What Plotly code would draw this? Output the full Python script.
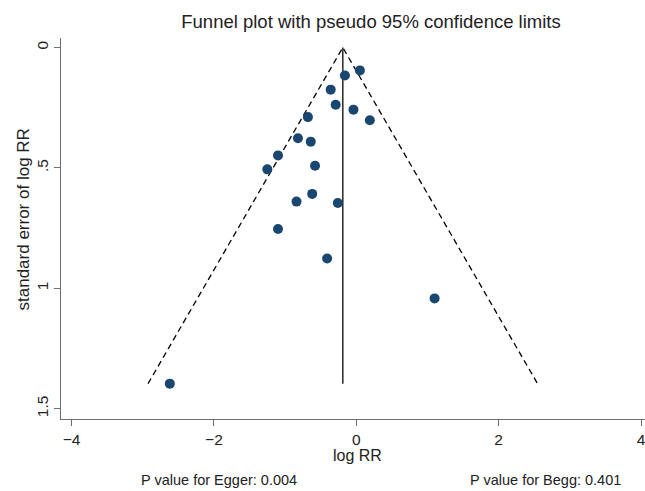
import plotly.graph_objects as go

# ---- data ----
log_rr = [0.05, -0.16, -0.36, -0.29, -0.04, -0.68, 0.19, -0.82, -0.64, -1.10,
          -1.25, -0.58, -0.62, -0.84, -0.26, -1.10, -0.41, 1.10, -2.62]
se_log_rr = [0.095, 0.116, 0.175, 0.238, 0.258, 0.289, 0.302, 0.377, 0.391, 0.448,
             0.506, 0.491, 0.608, 0.640, 0.646, 0.754, 0.876, 1.042, 1.396]
pooled = -0.19
z95 = 1.96

x_ticks = [-4, -2, 0, 2, 4]
y_ticks = [0, 0.5, 1, 1.5]
y_tick_labels = ["0", ".5", "1", "1.5"]

title_text = "Funnel plot with pseudo 95% confidence limits"
x_title = "log RR"
y_title = "standard error of log RR"
egger_text = "P value for Egger: 0.004"
begg_text = "P value for Begg: 0.401"

# ---- layout geometry ----
W, H = 645, 491
ML, MR, MT, MB = 61, 0, 38, 72
PW, PH = W - ML - MR, H - MT - MB

def px(xp):
    return (xp - ML) / PW

def py(yp):
    return (H - MB - yp) / PH

FONT = "Liberation Sans, Arial, Helvetica, sans-serif"
se_max = max(se_log_rr)

fig = go.Figure()
# funnel limits
fig.add_trace(go.Scatter(
    x=[pooled - z95 * se_max, pooled, pooled + z95 * se_max],
    y=[se_max, 0, se_max],
    mode="lines", line=dict(color="black", width=1.3, dash="6px,4px"),
    hoverinfo="skip", showlegend=False))
# pooled estimate line
fig.add_trace(go.Scatter(
    x=[pooled, pooled], y=[0, se_max], mode="lines",
    line=dict(color="#333333", width=1.6), hoverinfo="skip", showlegend=False))
# studies
fig.add_trace(go.Scatter(
    x=log_rr, y=se_log_rr, mode="markers",
    marker=dict(color="#1a476f", size=10, line=dict(width=0)),
    showlegend=False))

axis_common = dict(showline=True, linecolor="#6e6e6e", linewidth=1.3,
                   ticks="outside", ticklen=6, tickcolor="#6e6e6e", tickwidth=1.3,
                   showgrid=False, zeroline=False, mirror=False, automargin=False,
                   ticklabeloverflow="allow",
                   tickfont=dict(family=FONT, size=15.5, color="#222222"))

fig.update_layout(
    width=W, height=H,
    margin=dict(l=ML, r=MR, t=MT, b=MB),
    paper_bgcolor="white", plot_bgcolor="white",
    font=dict(family=FONT, color="#222222"),
    title=dict(text=title_text, x=371 / W, xanchor="center",
               y=1 - 22 / H, yanchor="middle",
               font=dict(family=FONT, size=18.5, color="#222222")),
    xaxis=dict(range=[-4.149, 4.056], tickvals=x_ticks, **axis_common),
    yaxis=dict(range=[1.5428, -0.0395], tickvals=y_ticks, ticktext=y_tick_labels,
               tickangle=-90, **axis_common),
    annotations=[
        dict(text=x_title, x=px(357), y=py(456), xref="paper", yref="paper",
             xanchor="center", yanchor="middle", showarrow=False,
             font=dict(family=FONT, size=16, color="#222222")),
        dict(text=y_title, x=px(22.5), y=py(220), xref="paper", yref="paper",
             xanchor="center", yanchor="middle", showarrow=False, textangle=-90,
             font=dict(family=FONT, size=17, color="#222222")),
        dict(text=egger_text, x=px(218.5), y=py(479.8), xref="paper", yref="paper",
             xanchor="center", yanchor="middle", showarrow=False,
             font=dict(family=FONT, size=14.5, color="#222222")),
        dict(text=begg_text, x=px(545.5), y=py(479.8), xref="paper", yref="paper",
             xanchor="center", yanchor="middle", showarrow=False,
             font=dict(family=FONT, size=14.5, color="#222222")),
    ],
)

fig.write_html("out.html",
               config={"displayModeBar": False},
               post_script="document.body.style.margin='0';document.body.style.overflow='hidden';")
